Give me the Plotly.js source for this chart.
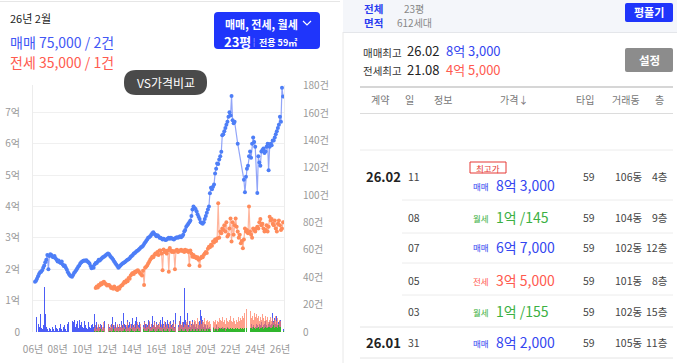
<!DOCTYPE html>
<html><head><meta charset="utf-8">
<script src="https://cdn.plot.ly/plotly-3.0.1.min.js"></script>
<style>html,body{margin:0;padding:0;background:#fff}#chart{width:677px;height:363px}</style>
</head><body><div id="chart"></div>
<script>
// ---- data ----
const startYear = 2006, monthCount = 242; // 2006-01 .. 2026-02
const months = [];
for (let i = 0; i < monthCount; i++) {
  const y = startYear + Math.floor(i / 12), m = i % 12 + 1;
  months.push(y + '-' + (m < 10 ? '0' + m : m) + '-01');
}
const tickYears = ['2006-01-01','2008-01-01','2010-01-01','2012-01-01','2014-01-01','2016-01-01','2018-01-01','2020-01-01','2022-01-01','2024-01-01','2026-01-01'];
const tickYearText = ['06년','08년','10년','12년','14년','16년','18년','20년','22년','24년','26년'];
const priceTicks = [0,1,2,3,4,5,6,7];
const priceTickText = ['0','1억','2억','3억','4억','5억','6억','7억'];
const countTicks = [0,20,40,60,80,100,120,140,160,180];
const countTickText = ['0','20건','40건','60건','80건','100건','120건','140건','160건','180건'];

// 매매 monthly average price (억), 2006-01 .. 2026-02
const salePrice = [
1.60,1.63,1.70,1.78,1.85,1.90,1.92,1.97,2.05,2.12,2.22,2.30,
2.45,2.00,2.42,2.48,2.45,2.40,2.38,2.42,2.35,2.30,2.25,2.28,
2.22,2.20,2.25,2.15,2.10,2.12,2.05,1.98,1.90,1.85,1.80,1.78,
1.76,1.82,1.88,1.92,1.97,2.02,2.08,2.12,2.18,2.22,2.25,2.27,
2.28,2.27,2.29,2.25,2.22,2.18,2.10,2.03,2.08,2.05,2.15,2.20,
2.20,2.25,2.30,2.28,2.32,2.35,2.38,2.40,2.42,2.45,2.48,2.50,
2.48,2.42,2.38,2.35,2.30,2.25,2.20,2.15,2.10,2.05,2.08,2.12,
2.15,2.18,2.20,2.22,2.25,2.28,2.30,2.32,2.35,2.40,2.42,2.45,
2.50,2.52,2.55,2.58,2.60,2.63,2.66,2.70,2.72,2.75,2.80,2.85,
2.90,2.95,3.00,3.02,3.05,3.10,3.15,3.18,3.12,3.10,3.05,3.08,
3.05,3.00,3.00,2.98,2.95,2.97,2.95,2.93,2.95,2.98,3.00,2.97,
3.00,2.98,2.97,2.95,2.98,3.00,3.02,3.00,3.03,3.05,3.02,3.05,
3.10,3.20,3.25,3.35,3.40,3.45,3.50,3.55,3.70,3.90,4.00,3.95,
3.92,3.85,3.75,3.67,3.60,3.50,3.47,3.45,3.50,3.60,3.70,3.80,
3.90,4.00,4.42,4.60,4.55,4.63,4.70,5.05,5.20,5.37,5.35,5.50,
5.60,5.74,6.27,6.30,6.40,6.50,6.60,6.70,6.86,7.00,6.90,7.52,
6.75,6.65,6.70,null,null,6.00,null,null,null,null,null,4.85,
4.45,4.95,5.20,5.30,5.60,5.75,5.55,6.00,6.20,6.05,5.90,null,
4.43,5.60,5.40,5.30,5.75,5.80,5.85,5.70,5.75,5.90,6.00,5.15,
5.90,6.00,5.95,6.10,6.10,6.20,6.30,6.40,6.50,6.60,6.86,6.70,
7.78,7.50];

// 전세 monthly average price (억), 2010-12 .. 2026-02
const leasePriceFrom = 59;
const leasePrice = [
1.40,1.45,1.42,1.50,1.48,1.55,1.52,1.58,1.60,1.55,1.52,1.48,1.50,
1.50,1.46,1.40,1.42,1.38,1.45,1.40,1.36,1.34,1.42,1.38,1.45,
1.48,1.50,1.55,1.60,1.58,1.65,1.62,1.72,1.70,1.80,1.85,1.88,
1.85,1.92,1.90,1.95,1.97,1.93,1.88,1.84,1.80,1.95,1.50,2.05,
2.08,2.12,2.18,2.24,2.30,2.35,2.40,2.38,2.45,2.50,2.48,2.55,
2.45,2.60,2.60,2.50,1.97,2.63,2.55,2.58,2.50,2.60,1.92,2.68,
2.60,2.55,2.58,2.55,2.00,2.60,2.62,2.55,2.58,2.60,2.62,2.58,
2.60,2.55,2.62,2.58,2.60,2.55,2.13,2.60,2.50,2.40,2.45,2.38,
2.40,2.35,2.38,2.30,2.10,2.35,2.40,2.38,2.45,2.50,2.55,2.52,
2.65,2.72,2.70,2.78,2.75,2.88,2.85,2.95,2.90,2.98,4.10,3.00,
3.20,3.15,3.30,3.25,3.40,3.20,3.50,3.04,3.10,3.30,3.62,2.88,
3.50,3.10,3.40,3.62,3.35,3.20,3.00,3.10,2.83,2.90,2.67,2.95,
3.30,3.20,3.25,3.15,4.00,3.20,3.10,3.00,3.30,3.25,3.20,3.30,
3.35,3.30,3.50,3.60,3.40,3.45,3.30,3.20,3.25,3.40,3.20,3.35,
3.67,3.55,3.60,3.45,3.40,3.55,3.30,3.20,3.45,3.55,3.40,3.25,
3.30,3.50];

// 매매 monthly deal count (건), 2006-01 .. 2026-02
const saleCount = [
13,11,12,6,4,13,3,2,5,33,13,4,
2,1,3,2,1,4,2,1,5,3,2,1,
3,6,2,1,4,5,2,1,6,7,2,1,
8,7,9,4,6,8,3,9,5,7,4,3,
8,5,3,2,7,4,3,5,6,4,13,5,
7,3,5,4,6,5,2,4,8,3,5,6,
4,3,6,11,5,4,7,3,5,4,6,4,
8,5,14,6,5,4,9,5,7,3,6,10,
5,4,8,11,6,5,7,4,9,5,8,6,
6,5,9,7,4,6,12,5,8,4,7,5,
6,4,9,5,11,6,4,7,5,9,6,4,
8,5,6,9,4,14,6,5,8,12,5,7,
7,32,9,6,14,5,8,4,6,9,5,7,
4,6,3,5,8,16,12,9,4,6,5,3,
5,3,4,2,3,4,2,3,5,2,4,3,
3,2,4,3,2,3,2,4,3,2,1,2,
2,1,2,1,0,1,0,0,1,0,0,1,
2,3,2,5,4,3,6,4,5,3,4,6,
5,4,6,5,7,4,5,6,8,5,4,6,
7,5,6,14,8,10,6,12,5,7,8,9,
6,2];

// 전세 / 월세 monthly deal counts (건), 2010-11 .. 2026-02
const rentCountFrom = 58;
const leaseCount = [
3,5,2,4,6,3,5,2,4,7,3,5,4,6,
3,5,4,6,2,5,3,4,6,3,5,4,
5,3,6,4,2,5,7,3,4,6,3,5,
4,6,3,5,7,4,3,6,5,4,7,3,
6,4,5,8,3,6,4,5,7,4,6,5,
5,7,4,6,3,5,8,4,6,5,3,7,
6,4,5,7,3,6,5,4,8,6,5,7,
4,6,5,7,9,4,6,8,5,7,6,9,
8,6,10,7,5,9,6,8,7,10,6,8,
9,7,8,6,10,8,7,9,6,8,7,10,
9,8,11,7,9,6,10,8,7,9,12,8,
7,10,8,6,9,7,11,8,10,9,12,10,
14,12,17,11,13,15,10,12,9,14,11,13,
10,12,8,11,9,13,10,8,12,9,11,7,
9,11,8,10,7,9,12,8,10,6,9,8,
5,1];
const monthlyRentCount = [
1,0,1,1,0,1,2,0,1,1,0,1,1,0,
1,1,0,1,2,1,0,1,1,0,1,1,
0,1,1,2,1,0,1,1,0,1,2,1,
1,0,1,1,2,1,1,0,1,2,1,1,
1,1,2,0,1,1,1,2,1,0,1,1,
2,1,1,1,0,2,1,1,1,2,1,0,
1,2,1,1,1,0,2,1,1,1,2,1,
1,1,2,1,0,1,2,1,1,2,1,1,
2,1,1,2,1,1,2,1,2,1,1,2,
1,2,2,1,2,3,1,2,2,1,2,3,
2,3,2,2,3,1,2,3,2,2,3,2,
3,2,2,3,2,3,2,2,3,2,3,2,
3,2,3,4,2,3,3,2,4,3,2,3,
3,4,2,3,3,4,2,3,4,3,3,4,
4,3,3,4,5,3,4,4,3,5,4,4,
2,1];

// ---- layout helpers ----
const W = 677, H = 363;
const FONT = '"Noto Sans CJK KR", "Noto Sans", sans-serif';
const X = x => x / W, Y = y => 1 - y / H;
const ann = [];
function T(text, x, y, size, color, anchor) {
  ann.push({text: text, x: X(x), y: Y(y), xref: 'paper', yref: 'paper', showarrow: false,
    xanchor: anchor || 'left', yanchor: 'middle', font: {family: FONT, size: size, color: color}});
}
const shapes = [];
function rr(x0, y0, x1, y1, r, fill) {
  const p = 'M' + X(x0 + r) + ',' + Y(y0) + ' L' + X(x1 - r) + ',' + Y(y0) +
    ' Q' + X(x1) + ',' + Y(y0) + ' ' + X(x1) + ',' + Y(y0 + r) +
    ' L' + X(x1) + ',' + Y(y1 - r) + ' Q' + X(x1) + ',' + Y(y1) + ' ' + X(x1 - r) + ',' + Y(y1) +
    ' L' + X(x0 + r) + ',' + Y(y1) + ' Q' + X(x0) + ',' + Y(y1) + ' ' + X(x0) + ',' + Y(y1 - r) +
    ' L' + X(x0) + ',' + Y(y0 + r) + ' Q' + X(x0) + ',' + Y(y0) + ' ' + X(x0 + r) + ',' + Y(y0) + ' Z';
  shapes.push({type: 'path', path: p, xref: 'paper', yref: 'paper', fillcolor: fill, line: {width: 0}});
}
function rect(x0, y0, x1, y1, fill, lineColor, lw) {
  shapes.push({type: 'rect', xref: 'paper', yref: 'paper', x0: X(x0), x1: X(x1), y0: Y(y1), y1: Y(y0),
    fillcolor: fill, line: {color: lineColor || 'rgba(0,0,0,0)', width: lw || 0}});
}
function hline(x0, x1, y, color, w) {
  shapes.push({type: 'line', xref: 'paper', yref: 'paper', x0: X(x0), x1: X(x1), y0: Y(y), y1: Y(y),
    line: {color: color, width: w || 1}});
}
function vline(x, y0, y1, color, w) {
  shapes.push({type: 'line', xref: 'paper', yref: 'paper', x0: X(x), x1: X(x), y0: Y(y0), y1: Y(y1),
    line: {color: color, width: w || 1}});
}

// ---- left panel header ----
hline(0, 340, 1.5, '#e6e6e6', 1);
T('26년 2월', 8, 18, 11, '#222');
T('매매 75,000 / 2건', 8, 42, 14, '#4257f5');
T('전세 35,000 / 1건', 8, 62, 14, '#ff5b4f');
rr(214, 12, 320, 49, 4, '#1f35fb');
T('<b>매매, 전세, 월세</b>', 223, 23.5, 11, '#ffffff');
shapes.push({type: 'path', xref: 'paper', yref: 'paper',
  path: 'M' + X(303) + ',' + Y(21) + ' L' + X(307) + ',' + Y(25) + ' L' + X(311) + ',' + Y(21),
  line: {color: '#ffffff', width: 1.2}});
T('<b>23평</b>', 222, 41.5, 13, '#ffffff');
T('¦', 251, 41.5, 8, 'rgba(255,255,255,0.7)');
T('<b>전용 59㎡</b>', 257, 42, 9, '#ffffff');
rr(124, 70, 207, 95, 12, '#4a4a4a');
T('VS가격비교', 165.5, 82.5, 12, '#ffffff', 'center');

// ---- right panel ----
rect(343, 0, 677, 32, '#f4f6fa');
hline(343, 677, 32.5, '#e4e6ea', 1);
vline(343, 32, 363, '#e8e8e8', 1);
T('<b>전체</b>', 362, 8, 10.5, '#2a3df0');
T('<b>면적</b>', 362, 23, 10.5, '#2a3df0');
T('23평', 402, 8, 10, '#888');
T('612세대', 395, 23, 10, '#888');
rr(625, 3, 673, 22, 2, '#1f35fb');
T('<b>평풀기</b>', 649, 12.5, 11, '#ffffff', 'center');

T('매매최고', 361, 52, 10.5, '#333');
T('26.02', 405, 51, 13, '#222');
T('8억 3,000', 444, 51, 13, '#3446f0');
T('전세최고', 361, 71, 10.5, '#333');
T('21.08', 405, 70, 13, '#222');
T('4억 5,000', 444, 70, 13, '#ff5a4f');
rr(625, 48, 673, 72, 2, '#8c8c8c');
T('<b>설정</b>', 649, 60, 11.5, '#ffffff', 'center');

hline(360, 673, 87, '#c8c8c8', 1.5);
T('계약', 379.5, 99.5, 10, '#777', 'center');
T('일', 410, 99.5, 10, '#777', 'center');
T('정보', 442.5, 99.5, 10, '#777', 'center');
T('가격↓', 514, 99.5, 10, '#777', 'center');
T('타입', 585, 99.5, 10, '#777', 'center');
T('거래동', 626, 99.5, 10, '#777', 'center');
T('층', 659, 99.5, 10, '#777', 'center');
hline(360, 673, 113.5, '#dcdcdc', 1);
hline(360, 673, 150, '#ececec', 1);

const kindColor = {'매매': '#3446f0', '전세': '#ff5a4f', '월세': '#3cb043'};
function row(y, month, day, kind, price, dong, floor, py) {
  if (month) T('<b>' + month + '</b>', 364, y, 13, '#222');
  T(day, 406, y, 10.5, '#444');
  T(kind, 471, (py || y) + 0.5, 8.5, kindColor[kind]);
  T(price, 494, py || y, 14, kindColor[kind]);
  T('59', 581, y, 10.5, '#444');
  T(dong, 613, y, 10.5, '#444');
  T(floor, 670, y, 10.5, '#444', 'right');
}
rect(470, 162, 506, 173, '#ffffff', '#e53935', 1);
T('최고가', 488, 167.5, 8.5, '#e53935', 'center');
row(177, '26.02', '11', '매매', '8억 3,000', '106동', '4층', 185);
hline(402, 673, 200, '#ececec', 1);
row(217, '', '08', '월세', '1억 /145', '104동', '9층');
hline(402, 673, 233, '#ececec', 1);
row(247, '', '07', '매매', '6억 7,000', '102동', '12층');
hline(402, 673, 263, '#ececec', 1);
row(280, '', '05', '전세', '3억 5,000', '101동', '8층');
hline(402, 673, 295, '#ececec', 1);
row(311, '', '03', '월세', '1억 /155', '102동', '15층');
hline(360, 673, 327, '#e4e4e4', 1);
row(342, '26.01', '31', '매매', '8억 2,000', '105동', '11층');
hline(360, 673, 358, '#e4e4e4', 1);

// ---- traces ----
const traces = [
  {type: 'bar', x: months, y: saleCount, yaxis: 'y2', marker: {color: 'rgba(45,65,245,0.85)'}, hoverinfo: 'skip'},
  {type: 'bar', x: months.slice(rentCountFrom), y: leaseCount, yaxis: 'y2', marker: {color: 'rgba(255,120,90,0.7)'}, hoverinfo: 'skip'},
  {type: 'bar', x: months.slice(rentCountFrom), y: monthlyRentCount, yaxis: 'y2', marker: {color: 'rgba(40,185,40,0.95)'}, hoverinfo: 'skip'},
  {type: 'scatter', mode: 'lines+markers', x: months, y: salePrice, connectgaps: true,
   line: {color: 'rgba(110,135,245,0.75)', width: 1.2}, marker: {color: '#4d7ef7', size: 4}},
  {type: 'scatter', mode: 'lines+markers', x: months.slice(leasePriceFrom), y: leasePrice, connectgaps: true,
   line: {color: 'rgba(255,150,115,0.7)', width: 1.2}, marker: {color: '#ff8b5a', size: 4}}
];

const layout = {
  width: W, height: H, margin: {l: 0, r: 0, t: 0, b: 0},
  paper_bgcolor: '#ffffff', plot_bgcolor: 'rgba(0,0,0,0)',
  showlegend: false, barmode: 'overlay', bargap: 0,
  font: {family: FONT},
  xaxis: {type: 'date', domain: [X(33), X(284)], range: ['2005-11-03', '2026-03-01'],
    tickvals: tickYears, ticktext: tickYearText, ticks: 'outside', ticklen: 8, tickcolor: 'rgba(0,0,0,0)',
    ticklabelshift: -2, tickangle: 0,
    tickfont: {size: 10, color: '#999', family: FONT}, showgrid: false, zeroline: false, showline: false},
  yaxis: {domain: [Y(332), Y(85)], range: [0, 7.87], tickvals: priceTicks, ticktext: priceTickText,
    ticks: 'outside', ticklen: 10, tickcolor: 'rgba(0,0,0,0)',
    tickfont: {size: 10, color: '#999', family: FONT}, showgrid: true, gridcolor: '#f0f0f0',
    zeroline: false, showline: true, linecolor: '#ececec'},
  yaxis2: {overlaying: 'y', side: 'right', range: [0, 180.5], tickvals: countTicks, ticktext: countTickText,
    ticks: 'outside', ticklen: 16, tickcolor: 'rgba(0,0,0,0)',
    tickfont: {size: 10, color: '#999', family: FONT}, showgrid: false, zeroline: false,
    showline: true, linecolor: '#ececec'},
  shapes: shapes, annotations: ann
};
Plotly.newPlot('chart', traces, layout, {staticPlot: true, displayModeBar: false});
</script></body></html>
